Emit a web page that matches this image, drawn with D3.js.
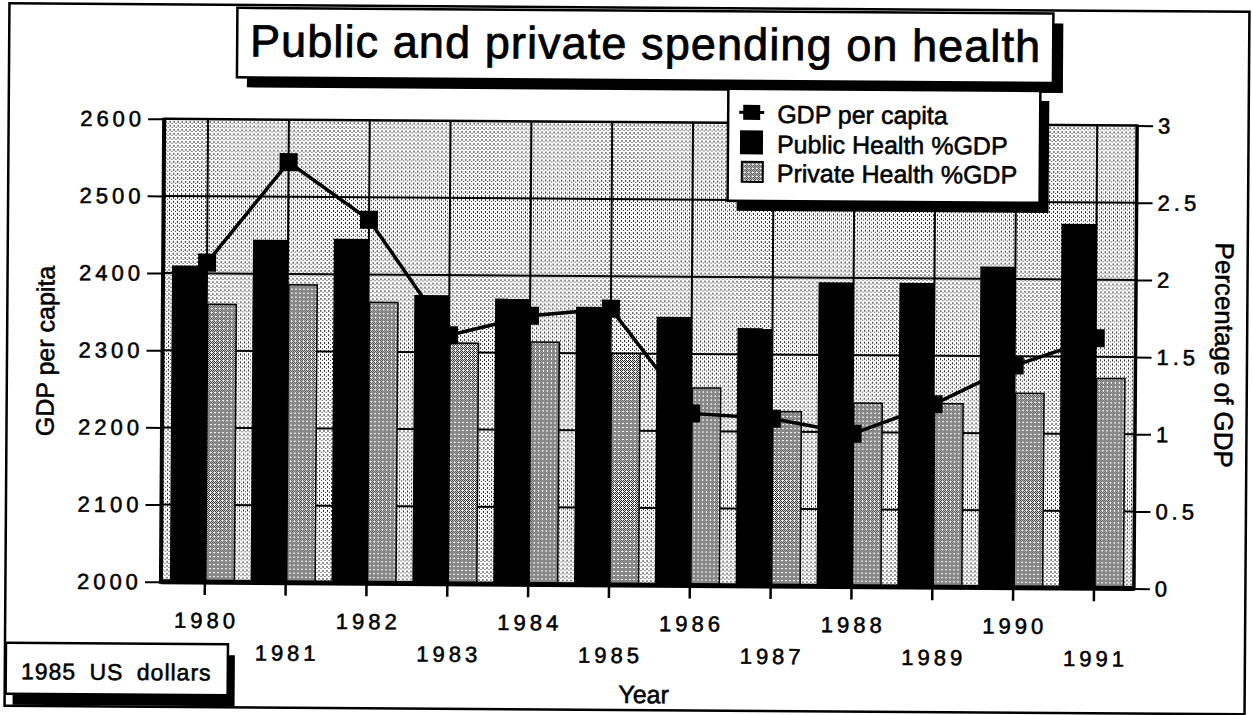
<!DOCTYPE html>
<html>
<head>
<meta charset="utf-8">
<script src="https://cdn.jsdelivr.net/npm/d3@7"></script>
<style>
  html, body { margin: 0; padding: 0; background: #fff; }
  svg { display: block; }
  text { font-family: "Liberation Sans", Arial, Helvetica, sans-serif; fill: #000; stroke: #000; stroke-width: 0.55px; }
</style>
</head>
<body>
<svg id="chart" width="1252" height="715"></svg>
<script>
// ---- data ----
const years = [1980, 1981, 1982, 1983, 1984, 1985, 1986, 1987, 1988, 1989, 1990, 1991];
const gdpPerCapita = [2414, 2545, 2471, 2322, 2348, 2358, 2223, 2217, 2198, 2237, 2288, 2324];
const publicHealth = [2.05, 2.22, 2.23, 1.87, 1.85, 1.80, 1.74, 1.67, 1.97, 1.97, 2.08, 2.36];
const privateHealth = [1.80, 1.93, 1.82, 1.56, 1.57, 1.50, 1.28, 1.13, 1.19, 1.19, 1.26, 1.36];
const gdpTicks = [2000, 2100, 2200, 2300, 2400, 2500, 2600];
const pctTicks = [0, 0.5, 1, 1.5, 2, 2.5, 3];
const pctTickLabels = ["0", "0.5", "1", "1.5", "2", "2.5", "3"];
const legendLabels = ["GDP per capita", "Public Health %GDP", "Private Health %GDP"];

// ---- layout ----
const plot = { left: 162.5, right: 1135.5, top: 122, bottom: 585 };

const svg = d3.select("#chart");
const defs = svg.append("defs");

// light dotted fill for the plot background
const bgPat = defs.append("pattern").attr("id", "bgDots")
  .attr("patternUnits", "userSpaceOnUse").attr("width", 4).attr("height", 4);
bgPat.append("rect").attr("width", 4).attr("height", 4).attr("fill", "#fff");
[[0, 0], [2, 2], [0, 1]].forEach(([px, py]) =>
  bgPat.append("rect").attr("x", px).attr("y", py).attr("width", 1).attr("height", 1).attr("fill", "#222"));

// denser hatch for private spending bars
const hPat = defs.append("pattern").attr("id", "hatch")
  .attr("patternUnits", "userSpaceOnUse").attr("width", 4).attr("height", 4);
hPat.append("rect").attr("width", 4).attr("height", 4).attr("fill", "#fff");
[[0, 0], [2, 0], [1, 1], [3, 1], [0, 2], [2, 2], [1, 3]].forEach(([px, py]) =>
  hPat.append("rect").attr("x", px).attr("y", py).attr("width", 1).attr("height", 1).attr("fill", "#111"));

// whole page is very slightly tilted
const root = svg.append("g").attr("transform", "rotate(0.4 626 357)");

// ---- scales ----
const x = d3.scaleBand().domain(years).range([166, 1136]);
const cx = d => x(d) + x.bandwidth() / 2;
const yL = d3.scaleLinear().domain([2000, 2600]).range([plot.bottom, plot.top]);
const yR = d3.scaleLinear().domain([0, 3]).range([plot.bottom, plot.top]);

// ---- outer frame ----
root.append("rect")
  .attr("x", 7).attr("y", 7.5).attr("width", 1240).attr("height", 702.5)
  .attr("fill", "#fff").attr("stroke", "#000").attr("stroke-width", 2.5);

// ---- plot background & grid ----
root.append("rect")
  .attr("x", plot.left).attr("y", plot.top)
  .attr("width", plot.right - plot.left).attr("height", plot.bottom - plot.top)
  .attr("fill", "url(#bgDots)");

const grid = root.append("g").attr("stroke", "#000").attr("stroke-width", 2);
grid.selectAll("line.h").data(gdpTicks.slice(1, -1)).join("line")
  .attr("x1", plot.left).attr("x2", plot.right)
  .attr("y1", d => yL(d)).attr("y2", d => yL(d));
grid.selectAll("line.v").data(years).join("line")
  .attr("x1", d => cx(d)).attr("x2", d => cx(d))
  .attr("y1", plot.top).attr("y2", plot.bottom);

// ---- bars ----
const rows = years.map((yr, i) => ({ yr, pub: publicHealth[i], priv: privateHealth[i], gdp: gdpPerCapita[i] }));

root.append("g").selectAll("rect").data(rows).join("rect")
  .attr("x", d => cx(d.yr) - 35).attr("width", 35)
  .attr("y", d => yR(d.pub)).attr("height", d => plot.bottom - yR(d.pub))
  .attr("fill", "#000");

root.append("g").selectAll("rect").data(rows).join("rect")
  .attr("x", d => cx(d.yr) + 1).attr("width", 28.5)
  .attr("y", d => yR(d.priv)).attr("height", d => plot.bottom - yR(d.priv))
  .attr("fill", "url(#hatch)").attr("stroke", "#000").attr("stroke-width", 1.5);

// ---- plot border ----
const border = root.append("g").attr("stroke", "#000");
border.append("line").attr("x1", plot.left).attr("x2", plot.right).attr("y1", plot.top).attr("y2", plot.top).attr("stroke-width", 2.5);
border.append("line").attr("x1", plot.left).attr("x2", plot.right).attr("y1", plot.bottom).attr("y2", plot.bottom).attr("stroke-width", 5);
border.append("line").attr("x1", plot.left).attr("x2", plot.left).attr("y1", plot.top - 1).attr("y2", plot.bottom + 2).attr("stroke-width", 4);
border.append("line").attr("x1", plot.right).attr("x2", plot.right).attr("y1", plot.top - 1).attr("y2", plot.bottom + 2).attr("stroke-width", 3.5);

// ---- GDP per capita line ----
const line = d3.line().x(d => cx(d.yr)).y(d => yL(d.gdp));
root.append("path").datum(rows)
  .attr("d", line).attr("fill", "none").attr("stroke", "#000").attr("stroke-width", 3.5);
root.append("g").selectAll("rect").data(rows).join("rect")
  .attr("x", d => cx(d.yr) - 9).attr("y", d => yL(d.gdp) - 9)
  .attr("width", 18).attr("height", 18).attr("fill", "#000");

// ---- axes ----
const tickFont = g => g.selectAll("text")
  .attr("font-size", 22).style("letter-spacing", "4px")
  .attr("font-family", "'Liberation Sans', Arial, Helvetica, sans-serif").attr("fill", "#000");

const axL = root.append("g").attr("transform", `translate(${plot.left},0)`)
  .call(d3.axisLeft(yL).tickValues(gdpTicks).tickFormat(d3.format("d")).tickSize(16).tickSizeOuter(0));
axL.select(".domain").remove();
axL.selectAll("line").attr("stroke-width", 2);
axL.call(tickFont).selectAll("text").attr("x", -19).attr("dy", "0.33em");

const axR = root.append("g").attr("transform", `translate(${plot.right},0)`)
  .call(d3.axisRight(yR).tickValues(pctTicks).tickFormat((d, i) => pctTickLabels[i]).tickSize(16).tickSizeOuter(0));
axR.select(".domain").remove();
axR.selectAll("line").attr("stroke-width", 2);
axR.call(tickFont).selectAll("text").attr("x", 21).attr("dy", "0.33em");

const axB = root.append("g").attr("transform", `translate(0,${plot.bottom})`)
  .call(d3.axisBottom(x).tickSize(13).tickSizeOuter(0));
axB.select(".domain").remove();
axB.selectAll("line").attr("stroke-width", 2.5);
axB.call(tickFont).selectAll("text")
  .attr("dy", 0).attr("dx", 2)
  .attr("y", (d, i) => (i % 2 === 0 ? 46 : 78));

// ---- axis titles ----
root.append("text")
  .attr("transform", "translate(54,355) rotate(-90)")
  .attr("text-anchor", "middle").attr("font-size", 25)
  .text("GDP per capita");
root.append("text")
  .attr("transform", "translate(1215,351) rotate(90)")
  .attr("text-anchor", "middle").attr("font-size", 26)
  .text("Percentage of GDP");
root.append("text")
  .attr("x", 646).attr("y", 703)
  .attr("text-anchor", "middle").attr("font-size", 25)
  .text("Year");

// ---- title box ----
const tb = { x: 235, y: 10.5, w: 816, h: 69.5 };
root.append("rect").attr("x", tb.x + 10).attr("y", tb.y + 10).attr("width", tb.w).attr("height", tb.h).attr("fill", "#000");
root.append("rect").attr("x", tb.x).attr("y", tb.y).attr("width", tb.w).attr("height", tb.h)
  .attr("fill", "#fff").attr("stroke", "#000").attr("stroke-width", 2.5);
root.append("text")
  .attr("x", 643.5).attr("y", 59).attr("text-anchor", "middle")
  .attr("font-size", 45).style("letter-spacing", "1.1px").style("stroke-width", "0.8px")
  .text("Public and private spending on health");

// ---- legend ----
const lg = { x: 726.5, y: 88, w: 312, h: 112 };
root.append("rect").attr("x", lg.x + 9).attr("y", lg.y + 10).attr("width", lg.w).attr("height", lg.h).attr("fill", "#000");
root.append("rect").attr("x", lg.x).attr("y", lg.y).attr("width", lg.w).attr("height", lg.h)
  .attr("fill", "#fff").attr("stroke", "#000").attr("stroke-width", 2.5);

const leg = root.append("g");
// line + marker symbol
leg.append("line").attr("x1", 737.5).attr("x2", 762.5).attr("y1", 111.5).attr("y2", 111.5)
  .attr("stroke", "#000").attr("stroke-width", 3);
leg.append("rect").attr("x", 741.5).attr("y", 104).attr("width", 17).attr("height", 15).attr("fill", "#000");
// solid swatch
leg.append("rect").attr("x", 738.5).attr("y", 129.5).attr("width", 23).attr("height", 24).attr("fill", "#000");
// hatched swatch
leg.append("rect").attr("x", 740.5).attr("y", 161).attr("width", 21).attr("height", 20)
  .attr("fill", "url(#hatch)").attr("stroke", "#000").attr("stroke-width", 2);
leg.selectAll("text").data(legendLabels).join("text")
  .attr("x", 775.5).attr("y", (d, i) => [122, 152, 181][i])
  .attr("font-size", 25).text(d => d);

// ---- units note ----
root.append("rect").attr("x", 15).attr("y", 658).attr("width", 222).attr("height", 51).attr("fill", "#000");
root.append("rect").attr("x", 8).attr("y", 647).attr("width", 222).attr("height", 51)
  .attr("fill", "#fff").attr("stroke", "#000").attr("stroke-width", 2.5);
root.append("text")
  .attr("x", 118.5).attr("y", 683.5).attr("text-anchor", "middle")
  .attr("font-size", 23).style("letter-spacing", "1px").style("word-spacing", "6px")
  .text("1985 US dollars");
</script>
</body>
</html>
